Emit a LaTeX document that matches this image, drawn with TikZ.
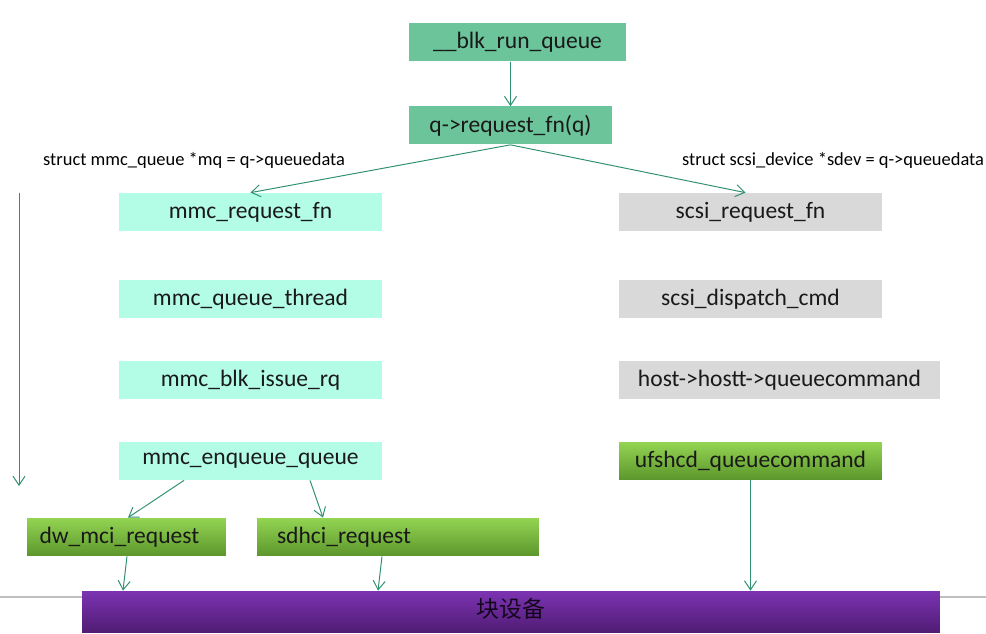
\documentclass[tikz,border=0pt]{standalone}
\usepackage{fontspec}
\usetikzlibrary{arrows.meta}
\setmainfont{Carlito}
\newfontfamily\cjk{Noto Sans CJK SC}
\definecolor{topgreen}{HTML}{6CC49A}
\definecolor{aqua}{HTML}{B3FCE6}
\definecolor{scsigray}{HTML}{D9D9D9}
\definecolor{limetop}{HTML}{93D452}
\definecolor{limebot}{HTML}{5C962C}
\definecolor{purtop}{HTML}{7C33B2}
\definecolor{purbot}{HTML}{501C74}
\definecolor{linkgreen}{HTML}{2F8F72}
\tikzset{
  fbox/.style={inner sep=0pt, minimum height=0.76cm, font=\fontsize{13.4}{15}\selectfont, text=black!90},
  kernbox/.style={fbox, fill=topgreen},
  mmcbox/.style={fbox, fill=aqua, minimum width=5.26cm},
  scsibox/.style={fbox, fill=scsigray, minimum width=5.26cm},
  hostbox/.style={fbox, top color=limetop, bottom color=limebot},
  link/.style={-{Straight Barb[length=1.8mm,width=2.4mm]}, draw=linkgreen, line width=0.55pt},
  note/.style={font=\fontsize{10.5}{12}\selectfont, anchor=west}
}
\begin{document}
\begin{tikzpicture}[x=0.02cm,y=-0.02cm]
\useasboundingbox (0,0) rectangle (986,634);
\fill[white] (0,0) rectangle (986,634);
\draw[black!25, line width=1.2pt] (0,597) -- (986,597);

% block layer
\node[kernbox, minimum width=4.34cm] (runq) at (517.5,42.5) {\_\_blk\_run\_queue};
\node[kernbox, minimum width=4.06cm] (reqfn) at (510.5,125.5) {q->request\_fn(q)};
\node[note] (mmcnote) at (37,160) {struct mmc\_queue *mq = q->queuedata};
\node[note] (scsinote) at (676,160) {struct scsi\_device *sdev = q->queuedata};

% mmc side
\node[mmcbox] (mmcreq) at (250.5,212) {mmc\_request\_fn};
\node[mmcbox] (mmcthread) at (250.5,299) {mmc\_queue\_thread};
\node[mmcbox] (mmcissue) at (250.5,380) {mmc\_blk\_issue\_rq};
\node[mmcbox] (mmcenq) at (250.5,461) {mmc\_enqueue\_queue};
\node[hostbox, minimum width=3.98cm, text width=3.48cm, align=left] (dwmci) at (126.5,537) {dw\_mci\_request};
\node[hostbox, minimum width=5.64cm, text width=4.84cm, align=left] (sdhci) at (398,537) {sdhci\_request};

% scsi side
\node[scsibox] (scsireq) at (750.5,212) {scsi\_request\_fn};
\node[scsibox] (scsidisp) at (750.5,299) {scsi\_dispatch\_cmd};
\node[fbox, fill=scsigray, minimum width=6.42cm] (hostq) at (779.5,380) {host->hostt->queuecommand};
\node[hostbox, minimum width=5.26cm] (ufs) at (750.5,461) {ufshcd\_queuecommand};

% block device
\node[inner sep=0pt, minimum width=17.16cm, minimum height=0.82cm, top color=purtop, bottom color=purbot] (blkdev) at (511,611.5) {};
\node[font=\cjk\fontsize{13}{15}\selectfont, text=black!75!purbot] (blklabel) at (511,609) {块设备};

\coordinate (flowtop) at (19,193);
\coordinate (flowbot) at (19,486);

\draw[link] ([xshift=-0.14cm]runq.south) -- (reqfn.north);
\draw[link] (reqfn.south) -- (mmcreq.north);
\draw[link] (reqfn.south) -- ([xshift=-0.1cm]scsireq.north);
\draw[link] (flowtop) -- (flowbot);
\draw[link] ([xshift=-1.33cm]mmcenq.south) -- ([xshift=0.03cm]dwmci.north);
\draw[link] ([xshift=1.19cm]mmcenq.south) -- ([xshift=-1.5cm]sdhci.north);
\draw[link] ([xshift=0.01cm]dwmci.south) -- ([xshift=-0.07cm]dwmci.south |- blkdev.north);
\draw[link] ([xshift=-0.32cm]sdhci.south) -- ([xshift=-0.4cm]sdhci.south |- blkdev.north);
\draw[link] (ufs.south) -- (ufs.south |- blkdev.north);
\end{tikzpicture}
\end{document}
